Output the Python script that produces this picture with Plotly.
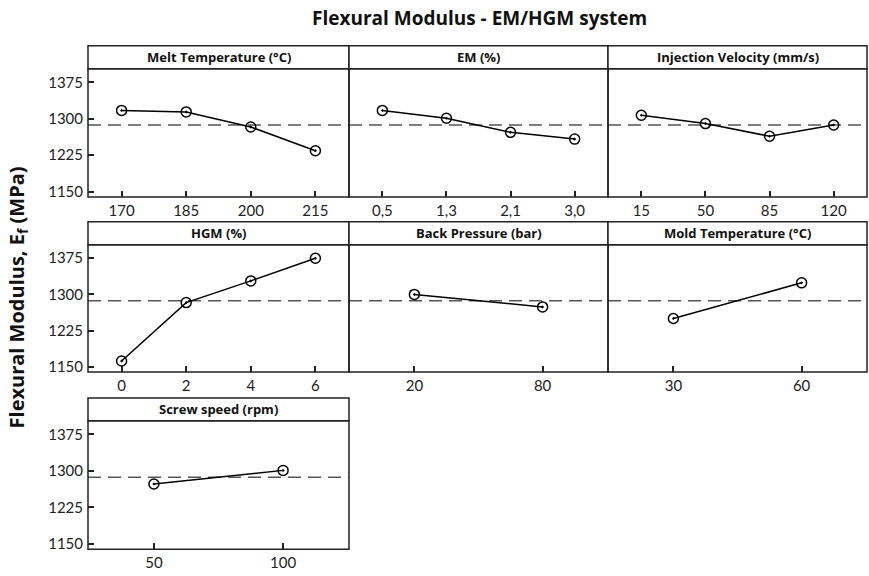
import plotly.graph_objects as go

# ---------------- data ----------------
panel_titles = ["Melt Temperature (°C)", "EM (%)", "Injection Velocity (mm/s)",
                "HGM (%)", "Back Pressure (bar)", "Mold Temperature (°C)",
                "Screw speed (rpm)"]

melt_temp_levels = ["170", "185", "200", "215"]
melt_temp_means = [1317, 1314, 1283, 1234]

em_levels = ["0,5", "1,3", "2,1", "3,0"]
em_means = [1317, 1301, 1272, 1258]

inj_vel_levels = ["15", "50", "85", "120"]
inj_vel_means = [1307, 1290, 1264, 1287]

hgm_levels = ["0", "2", "4", "6"]
hgm_means = [1162, 1283, 1328, 1375]

back_pressure_levels = ["20", "80"]
back_pressure_means = [1300, 1274]

mold_temp_levels = ["30", "60"]
mold_temp_means = [1250, 1324]

screw_speed_levels = ["50", "100"]
screw_speed_means = [1273, 1301]

grand_mean = 1287

y_tick_vals = [1150, 1225, 1300, 1375]

all_levels = [melt_temp_levels, em_levels, inj_vel_levels, hgm_levels,
              back_pressure_levels, mold_temp_levels, screw_speed_levels]
all_means = [melt_temp_means, em_means, inj_vel_means, hgm_means,
             back_pressure_means, mold_temp_means, screw_speed_means]

# ---------------- layout geometry (pixels) ----------------
W, H = 869, 576
col_x = [(88, 349), (349, 608), (608, 867)]
row_y = [(46, 69, 198), (223, 246, 374), (400, 423, 552)]  # strip top, plot top, plot bottom

TICK_FONT = "Lato"
BOLD_FONT = "Open Sans"
LINE_C = "#222"
fig = go.Figure()
shapes = []
annotations = []

def px(x):
    return x / W

def py(y):
    return 1 - y / H

for i, (title, levels, means) in enumerate(zip(panel_titles, all_levels, all_means)):
    r, c = divmod(i, 3)
    x0, x1 = col_x[c]
    st, pt, pb = row_y[r]
    ax = "" if i == 0 else str(i + 1)
    n = len(levels)
    pos = list(range(1, n + 1))
    fig.add_trace(go.Scatter(
        x=pos, y=means, mode="lines+markers",
        xaxis="x" + ax, yaxis="y" + ax,
        line=dict(color="black", width=1.5),
        marker=dict(symbol="circle-open-dot", size=10, color="black",
                    line=dict(width=1.5, color="black")),
        showlegend=False, hoverinfo="skip", cliponaxis=False))
    xr = [0.48, 4.52] if n == 4 else [0.49, 2.51]
    fig.layout["xaxis" + ax] = dict(
        domain=[px(x0), px(x1)], anchor="y" + ax, range=xr,
        tickvals=pos, ticktext=levels, ticks="inside", ticklen=6,
        tickwidth=1.5, tickcolor=LINE_C, showline=False,
        showgrid=False, zeroline=False, ticklabelstandoff=3,
        tickfont=dict(family=TICK_FONT, size=15, color=LINE_C))
    fig.layout["yaxis" + ax] = dict(
        domain=[py(pb), py(pt)], anchor="x" + ax, range=[1139, 1403],
        tickvals=y_tick_vals,
        ticks="inside" if c == 0 else "", ticklen=6, tickwidth=1.5,
        tickcolor=LINE_C, showticklabels=(c == 0), showline=False,
        showgrid=False, zeroline=False, ticklabelstandoff=4,
        tickfont=dict(family=TICK_FONT, size=15, color=LINE_C))
    # reference (grand mean) line
    shapes.append(dict(type="line", xref="x" + ax + " domain", yref="y" + ax,
                       x0=0, x1=1, y0=grand_mean, y1=grand_mean,
                       line=dict(color="#555", width=1.5, dash="13px,7px"),
                       layer="below"))
    # panel frame
    shapes.append(dict(type="rect", xref="paper", yref="paper",
                       x0=px(x0), x1=px(x1), y0=py(pb), y1=py(pt),
                       line=dict(color=LINE_C, width=1.5)))
    # strip
    shapes.append(dict(type="rect", xref="paper", yref="paper",
                       x0=px(x0), x1=px(x1), y0=py(pt), y1=py(st),
                       line=dict(color=LINE_C, width=1.5), fillcolor="white"))
    annotations.append(dict(x=px((x0 + x1) / 2), y=py((st + pt) / 2),
                            xref="paper", yref="paper", showarrow=False,
                            text="<b>" + title + "</b>",
                            font=dict(family=BOLD_FONT, size=13, color="#111"),
                            xanchor="center", yanchor="middle"))

annotations.append(dict(x=px(479), y=py(18), xref="paper", yref="paper",
                        showarrow=False,
                        text="<b>Flexural Modulus - EM/HGM system</b>",
                        font=dict(family=BOLD_FONT, size=19, color="#111"),
                        xanchor="center", yanchor="middle"))
annotations.append(dict(x=px(17), y=py(299), xref="paper", yref="paper",
                        showarrow=False, textangle=-90,
                        text="<b>Flexural Modulus, E<sub>f</sub> (MPa)</b>",
                        font=dict(family=BOLD_FONT, size=20, color="#111"),
                        xanchor="center", yanchor="middle"))

fig.update_layout(width=W, height=H, margin=dict(l=0, r=0, t=0, b=0),
                  paper_bgcolor="white", plot_bgcolor="white",
                  shapes=shapes, annotations=annotations)

fig.write_html("out.html", config={"displayModeBar": False},
               post_script="document.body.style.margin='0';document.body.style.overflow='hidden';")
